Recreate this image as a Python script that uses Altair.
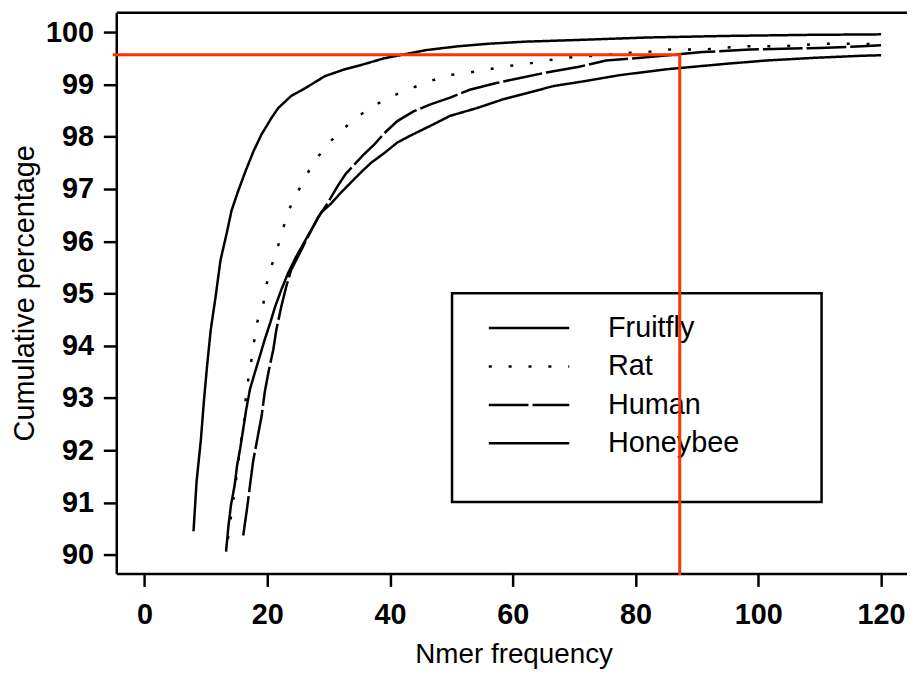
import altair as alt
import pandas as pd

# ---------------- data ----------------
series_names = ["Fruitfly", "Rat", "Human", "Honeybee"]

fruitfly_x = [8.0, 8.5, 9.2, 9.7, 10.2, 10.8, 11.6, 12.4, 13.4, 14.2, 15.3, 16.5, 17.8,
              19.1, 20.7, 21.8, 23.9, 26.2, 29.4, 32.6, 35.5, 39.0, 42.0, 46.0, 51.0,
              56.0, 62.0, 70.0, 82.0, 95.0, 108.0, 120.0]
fruitfly_y = [90.45, 91.4, 92.2, 92.95, 93.6, 94.3, 94.94, 95.64, 96.15, 96.59, 96.97,
              97.35, 97.73, 98.05, 98.36, 98.55, 98.78, 98.93, 99.16, 99.29, 99.38, 99.5,
              99.57, 99.66, 99.73, 99.78, 99.82, 99.85, 99.9, 99.93, 99.95, 99.96]

rat_x = [13.6, 14.3, 15.0, 15.8, 16.3, 16.5, 16.9, 17.4, 17.9, 18.4, 19.4, 19.9, 20.8,
         21.8, 22.6, 23.6, 25.0, 26.5, 28.3, 30.2, 32.6, 34.9, 37.8, 40.6, 43.5, 46.4,
         49.6, 52.9, 56.1, 59.0, 62.6, 65.5, 68.6, 71.8, 75.0, 78.1, 81.3, 84.6, 91.0,
         97.4, 103.8, 110.2, 116.7, 120.0]
rat_y = [90.3, 90.9, 91.5, 92.23, 92.6, 92.98, 93.34, 93.7, 94.1, 94.46, 94.82, 95.18,
         95.56, 95.92, 96.25, 96.62, 96.95, 97.29, 97.62, 97.9, 98.17, 98.4, 98.62, 98.79,
         98.93, 99.06, 99.18, 99.23, 99.29, 99.35, 99.4, 99.46, 99.51, 99.54, 99.56, 99.61,
         99.61, 99.67, 99.67, 99.73, 99.73, 99.78, 99.78, 99.77]

human_x = [16.1, 16.7, 17.2, 17.7, 18.3, 19.1, 19.6, 20.2, 21.0, 21.5, 22.3, 23.1, 23.9,
           25.3, 26.8, 28.3, 29.4, 30.4, 31.5, 32.8, 34.3, 35.8, 37.5, 39.1, 41.2, 43.9,
           46.6, 49.8, 53.0, 57.0, 60.6, 65.5, 70.8, 75.2, 80.9, 85.4, 90.9, 98.6, 110.0,
           117.0, 120.0]
human_y = [90.37, 90.87, 91.33, 91.78, 92.16, 92.66, 93.11, 93.49, 93.93, 94.31, 94.75,
           95.13, 95.45, 95.77, 96.12, 96.46, 96.65, 96.84, 97.06, 97.29, 97.48, 97.67,
           97.86, 98.07, 98.3, 98.49, 98.62, 98.75, 98.9, 99.02, 99.11, 99.23, 99.34, 99.46,
           99.51, 99.56, 99.62, 99.67, 99.7, 99.73, 99.75]

honeybee_x = [13.3, 13.7, 14.1, 14.7, 15.1, 15.6, 16.1, 16.6, 17.2, 18.0, 18.8, 19.6, 20.5,
              21.3, 22.3, 23.4, 24.7, 26.6, 28.8, 30.4, 32.0, 33.6, 35.2, 36.9, 39.1, 41.2,
              43.3, 46.6, 49.8, 54.2, 58.5, 62.5, 66.6, 71.5, 77.5, 84.9, 89.5, 95.1, 101.4,
              109.0, 116.8, 120.0]
honeybee_y = [90.06, 90.56, 90.95, 91.33, 91.71, 92.03, 92.41, 92.79, 93.17, 93.49, 93.8,
              94.12, 94.44, 94.75, 95.07, 95.39, 95.7, 96.1, 96.55, 96.72, 96.93, 97.12,
              97.31, 97.5, 97.69, 97.89, 98.02, 98.21, 98.4, 98.55, 98.72, 98.84, 98.97,
              99.06, 99.18, 99.29, 99.34, 99.4, 99.46, 99.51, 99.55, 99.56]

threshold_x = [87.2]
threshold_y = [99.57]

x_ticks = [0, 20, 40, 60, 80, 100, 120]
y_ticks = [90, 91, 92, 93, 94, 95, 96, 97, 98, 99, 100]

# ---------------- tables ----------------
rows = []
for name, xs, ys in zip(series_names,
                        [fruitfly_x, rat_x, human_x, honeybee_x],
                        [fruitfly_y, rat_y, human_y, honeybee_y]):
    for i, (a, b) in enumerate(zip(xs, ys)):
        rows.append({"series": name, "x": a, "y": b, "order": i})
df = pd.DataFrame(rows)
thr_df = pd.DataFrame({"tx": threshold_x, "ty": threshold_y})
leg_df = pd.DataFrame({"series": series_names})
box_df = pd.DataFrame({"k": [0]})

# ---------------- style ----------------
W, H = 796, 565
FONT = "Liberation Sans"
RED = "#ff3300"
x_scale = alt.Scale(domain=[-4.58, 124.22], nice=False, zero=False)
y_scale = alt.Scale(domain=[89.643, 100.384], nice=False, zero=False)
dash_scale = alt.Scale(domain=series_names, range=[[1, 0], [3, 17], [40, 4], [1, 0]])

curves = alt.Chart(df).mark_line(color="black", strokeWidth=2.5, strokeCap="butt").encode(
    x=alt.X("x:Q", scale=x_scale, axis=alt.Axis(
        values=x_ticks, grid=False, domain=True, domainColor="black", domainWidth=2.5,
        tickSize=13, tickWidth=2.5, tickColor="black",
        labelFont=FONT, labelFontSize=29, labelFontWeight="bold", labelColor="black",
        labelPadding=14, labelFlush=False, labelOverlap=False,
        title="Nmer frequency", titleFont=FONT, titleFontSize=28, titleFontWeight="normal",
        titleColor="black", titleBaseline="alphabetic", titleY=90, titleX=400)),
    y=alt.Y("y:Q", scale=y_scale, axis=alt.Axis(
        values=y_ticks, grid=False, domain=True, domainColor="black", domainWidth=2.5,
        tickSize=13, tickWidth=2.5, tickColor="black",
        labelFont=FONT, labelFontSize=29, labelFontWeight="bold", labelColor="black",
        labelPadding=10, labelFlush=False, labelOverlap=False,
        title="Cumulative percentage", titleFont=FONT, titleFontSize=29,
        titleFontWeight="normal", titleColor="black", titleBaseline="alphabetic",
        titleX=-83.5, titleY=282.5, titleAlign="center")),
    strokeDash=alt.StrokeDash("series:N", scale=dash_scale, legend=None),
    detail="series:N",
    order="order:Q",
)

box = alt.Chart(box_df).mark_rect(fill="white", stroke="black", strokeWidth=2.5).encode(
    x=alt.value(338), x2=alt.value(710), y=alt.value(283), y2=alt.value(493)
)

leg_y = alt.Y("series:N", scale=alt.Scale(type="point", domain=series_names,
                                         range=[318, 434], padding=0), axis=None)
leg_rules = alt.Chart(leg_df).mark_rule(color="black", strokeWidth=2.5).encode(
    x=alt.value(375), x2=alt.value(456), y=leg_y,
    strokeDash=alt.StrokeDash("series:N", scale=dash_scale, legend=None),
)
leg_text = alt.Chart(leg_df).mark_text(
    align="left", baseline="middle", font=FONT, fontSize=29, color="black"
).encode(x=alt.value(495), y=leg_y, text="series:N")

red_h = alt.Chart(thr_df).mark_rule(color=RED, strokeWidth=3, strokeCap="square").encode(
    x=alt.X("tx:Q", scale=x_scale, axis=alt.Axis(
        orient="top", labels=False, ticks=False, title=None, grid=False,
        domain=True, domainColor="black", domainWidth=2.5)),
    x2=alt.value(-2),
    y=alt.Y("ty:Q", scale=y_scale, axis=None),
)
red_v = alt.Chart(thr_df).mark_rule(color=RED, strokeWidth=3, strokeCap="square").encode(
    x=alt.X("tx:Q", scale=x_scale, axis=None),
    y=alt.Y("ty:Q", scale=y_scale, axis=None),
    y2=alt.value(H),
)

chart = alt.layer(curves, box, leg_rules, leg_text, red_h, red_v).resolve_scale(
    y="independent"
).resolve_axis(
    x="independent", y="independent"
).properties(
    width=W, height=H,
    padding={"left": 109, "top": 2, "right": 0, "bottom": 98},
    autosize=alt.AutoSizeParams(type="none"),
    background="white",
).configure_view(stroke=None).configure(font=FONT)

chart.save("out.html", embed_options={"renderer": "svg", "actions": False})
